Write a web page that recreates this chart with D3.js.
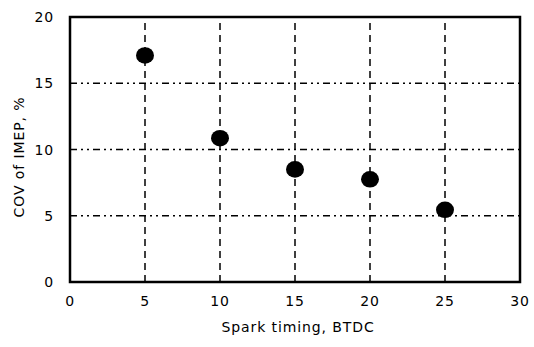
<!DOCTYPE html>
<html>
<head>
<meta charset="utf-8">
<script src="https://cdn.jsdelivr.net/npm/d3@7"></script>
<style>
  body { margin: 0; background: #fff; }
  svg { display: block; }
</style>
</head>
<body>
<div id="chart"></div>
<script>
// COV of IMEP vs spark timing scatter

const sparkTiming = [5, 10, 15, 20, 25];
const covImep     = [17.1, 10.85, 8.5, 7.75, 5.45];
const xTicks      = [0, 5, 10, 15, 20, 25, 30];
const yTicks      = [0, 5, 10, 15, 20];

const W = 534, H = 347;
const margin = { left: 70, right: 14, top: 17, bottom: 65 };

const svg = d3.select('#chart').append('svg')
  .attr('width', W).attr('height', H);

const x = d3.scaleLinear().domain([0, 30]).range([margin.left, W - margin.right]);
const y = d3.scaleLinear().domain([0, 20]).range([H - margin.bottom, margin.top]);

const font = '"DejaVu Sans", Arial, sans-serif';

// grid
svg.append('g').selectAll('line')
  .data(yTicks.slice(1, -1))
  .join('line')
  .attr('x1', x(0)).attr('x2', x(30))
  .attr('y1', d => y(d)).attr('y2', d => y(d))
  .attr('stroke', '#000').attr('stroke-width', 1.3)
  .attr('stroke-dasharray', '7,4,2,4,2,4');

svg.append('g').selectAll('line')
  .data(xTicks.slice(1, -1))
  .join('line')
  .attr('x1', d => x(d)).attr('x2', d => x(d))
  .attr('y1', y(0)).attr('y2', y(20))
  .attr('stroke', '#000').attr('stroke-width', 1.5)
  .attr('stroke-dasharray', '7,5');

// frame
svg.append('rect')
  .attr('x', x(0)).attr('y', y(20))
  .attr('width', x(30) - x(0)).attr('height', y(0) - y(20))
  .attr('fill', 'none').attr('stroke', '#000').attr('stroke-width', 2.5);

// tick labels
svg.append('g').selectAll('text')
  .data(xTicks)
  .join('text')
  .attr('x', d => x(d)).attr('y', y(0) + 24)
  .attr('text-anchor', 'middle')
  .attr('font-family', font).attr('font-size', 14).attr('letter-spacing', 0.8)
  .text(d => d);

svg.append('g').selectAll('text')
  .data(yTicks)
  .join('text')
  .attr('x', x(0) - 16).attr('y', d => y(d) + 5)
  .attr('text-anchor', 'end')
  .attr('font-family', font).attr('font-size', 14).attr('letter-spacing', 0.8)
  .text(d => d);

// axis titles
svg.append('text')
  .attr('x', 298).attr('y', 332)
  .attr('text-anchor', 'middle')
  .attr('font-family', font).attr('font-size', 14).attr('letter-spacing', 0.9)
  .text('Spark timing,  BTDC');

svg.append('text')
  .attr('transform', `translate(24,157) rotate(-90)`)
  .attr('text-anchor', 'middle')
  .attr('font-family', font).attr('font-size', 14).attr('letter-spacing', 0.9)
  .text('COV of IMEP, %');

// points
svg.append('g').selectAll('ellipse')
  .data(sparkTiming.map((t, i) => ({ t, v: covImep[i] })))
  .join('ellipse')
  .attr('cx', d => x(d.t)).attr('cy', d => y(d.v))
  .attr('rx', 9).attr('ry', 8.3)
  .attr('fill', '#000');
</script>
</body>
</html>
